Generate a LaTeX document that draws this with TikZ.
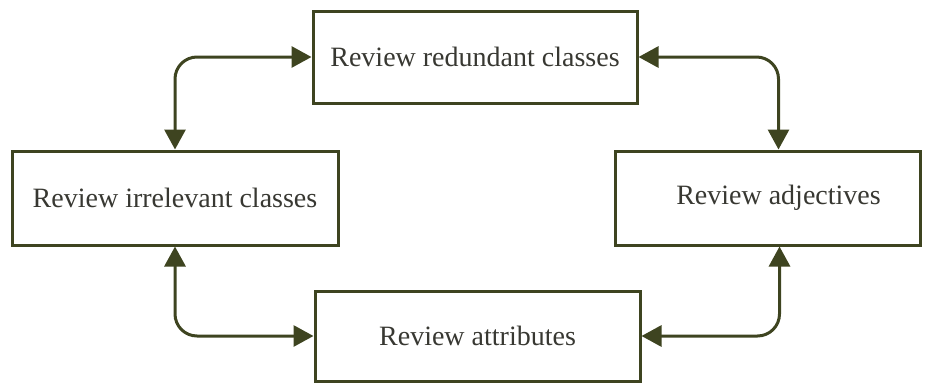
\documentclass[tikz,border=0pt]{standalone}
\usepackage{fontspec}
\setmainfont{Liberation Serif}
\usetikzlibrary{arrows.meta}
\definecolor{olive}{HTML}{3E4420}
\definecolor{txt}{HTML}{383832}
\begin{document}
\begin{tikzpicture}[x=1pt,y=-1pt,
  box/.style={draw=olive,line width=3pt,fill=white,inner sep=0pt,
    text=txt,font=\fontsize{28}{32}\selectfont},
  link/.style={draw=olive,line width=3pt,rounded corners=22pt,
    {Triangle[length=20pt,width=21pt]}-{Triangle[length=20pt,width=21pt]}}]
\useasboundingbox (0,0) rectangle (933,388);
\node[box,minimum width=324pt,minimum height=92pt] (top) at (475,57) {Review redundant classes};
\node[box,minimum width=326pt,minimum height=94pt] (left) at (175,198) {Review irrelevant classes};
\node[box,minimum width=305pt,minimum height=94pt] (right) at (767.5,198) {\hspace*{22pt}Review adjectives};
\node[box,minimum width=325pt,minimum height=90pt] (bottom) at (477.5,336) {Review attributes};
\draw[link] (top.west) -| (left.north);
\draw[link] (top.east) -| ([xshift=11pt]right.north);
\draw[link] (left.south) |- (bottom.west);
\draw[link] ([xshift=12pt]right.south) |- (bottom.east);
\end{tikzpicture}
\end{document}
